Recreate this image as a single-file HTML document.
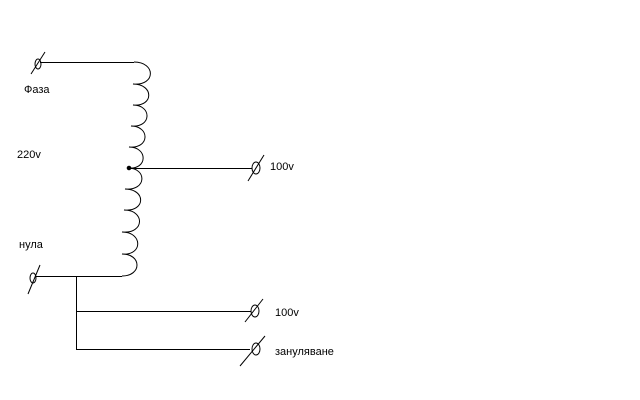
<!DOCTYPE html>
<html><head><meta charset="utf-8"><style>
html,body{margin:0;padding:0;background:#fff;}
svg{display:block}
text{font-family:"Liberation Sans",sans-serif;font-size:11px;fill:#000}
</style></head><body>
<svg width="640" height="400" viewBox="0 0 640 400" xmlns="http://www.w3.org/2000/svg">
<g fill="none" stroke="#000" stroke-width="1">
<line x1="40" y1="62.5" x2="134" y2="62.5" shape-rendering="crispEdges"/>
<path d="M134 62 C156 62,156 86,133 84 C154 84,154 107,133 105 C152 105,152 128,131 126 C150 126,150 149,129 147 C148 147,148 170,128 168
C147 168,147 191,125 189 C146 189,146 212,124 210 C145 210,145 234,122 232 C143 232,143 256,122 254 C142 254,142 276,122 276"/>
<line x1="129" y1="168.5" x2="252" y2="168.5" shape-rendering="crispEdges"/>
<circle cx="129" cy="168" r="1.8" fill="#000"/>
<line x1="36" y1="276.5" x2="122" y2="276.5" shape-rendering="crispEdges"/>
<line x1="76.5" y1="276" x2="76.5" y2="350" shape-rendering="crispEdges"/>
<line x1="76" y1="311.5" x2="251" y2="311.5" shape-rendering="crispEdges"/>
<line x1="76" y1="349.5" x2="250" y2="349.5" shape-rendering="crispEdges"/>
<ellipse cx="38" cy="64" rx="3" ry="5"/><line x1="31" y1="74" x2="45" y2="52"/>
<ellipse cx="33" cy="278" rx="3" ry="5"/><line x1="28" y1="294" x2="40" y2="265"/>
<ellipse cx="256" cy="168" rx="4" ry="6"/><line x1="248" y1="181" x2="264" y2="155"/>
<ellipse cx="255" cy="311" rx="4" ry="6"/><line x1="245" y1="322" x2="263" y2="299"/>
<ellipse cx="256" cy="349" rx="4" ry="6"/><line x1="240" y1="366" x2="265" y2="336"/>
</g>
<text x="24" y="93">Фаза</text>
<text x="17" y="158">220v</text>
<text x="19" y="248">нула</text>
<text x="270" y="170">100v</text>
<text x="275" y="316">100v</text>
<text x="275" y="355">зануляване</text>
</svg>
</body></html>
